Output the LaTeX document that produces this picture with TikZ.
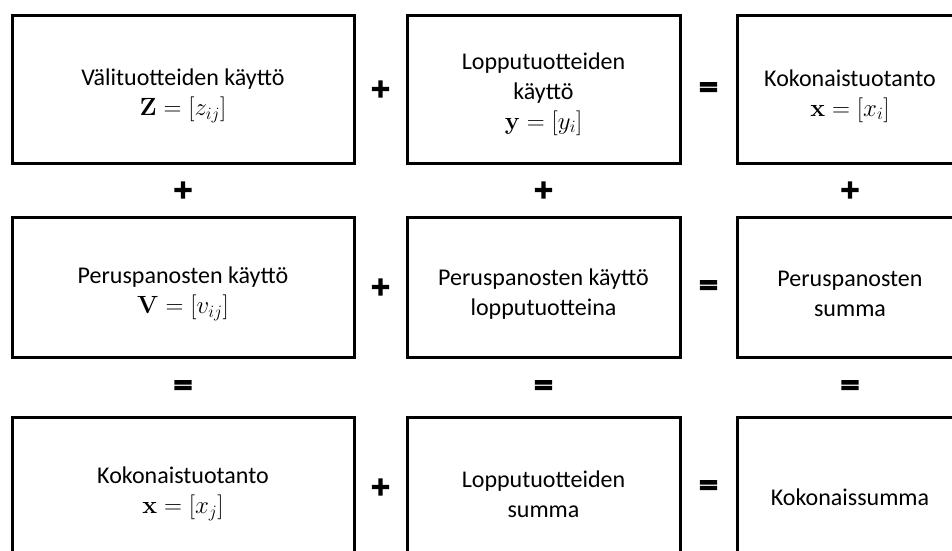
\documentclass[tikz,border=0pt]{standalone}
\usepackage[no-math]{fontspec}
\setmainfont{Carlito}
\newfontface\opfont{DejaVu Sans Bold}[FakeBold=6]
\begin{document}
\begin{tikzpicture}[x=1pt,y=-1pt,
  box/.style={draw,line width=3pt,inner sep=0pt},
  lbl/.style={inner sep=0pt,align=center,font=\fontsize{24}{30}\selectfont},
  c1/.style={minimum width=342pt},
  c2/.style={minimum width=273pt},
  c3/.style={minimum width=226pt},
  r1/.style={minimum height=148pt},
  r2/.style={minimum height=140pt},
  r3/.style={minimum height=140pt},
  op/.style={font=\opfont\fontsize{25}{25}\selectfont,inner sep=0pt}]
\useasboundingbox (0,0) rectangle (952,550);
\clip (0,0) rectangle (952,550);
% row 1
\node[box,c1,r1] (a1) at (183,89) {};
\node[box,c2,r1] (a2) at (543.5,89) {};
\node[box,c3,r1] (a3) at (850,89) {};
% row 2
\node[box,c1,r2] (b1) at (183,287) {};
\node[box,c2,r2] (b2) at (543.5,287) {};
\node[box,c3,r2] (b3) at (850,287) {};
% row 3
\node[box,c1,r3] (d1) at (183,487) {};
\node[box,c2,r3] (d2) at (543.5,487) {};
\node[box,c3,r3] (d3) at (850,487) {};
% texts
\node[lbl] (ta1) at ([yshift=-7pt]a1.center) {Välituotteiden käyttö\\$\mathbf{Z}=\bigl[z_{ij}\bigr]$};
\node[lbl] (ta2) at ([yshift=-5pt]a2.center) {Lopputuotteiden\\käyttö\\$\mathbf{y}=[y_i]$};
\node[lbl] (ta3) at ([yshift=-7pt]a3.center) {Kokonaistuotanto\\$\mathbf{x}=[x_i]$};
\node[lbl] (tb1) at ([yshift=-7pt]b1.center) {Peruspanosten käyttö\\$\mathbf{V}=\bigl[v_{ij}\bigr]$};
\node[lbl] (tb2) at ([yshift=-7pt]b2.center) {Peruspanosten käyttö\\lopputuotteina};
\node[lbl] (tb3) at ([yshift=-7pt]b3.center) {Peruspanosten\\summa};
\node[lbl] (td1) at ([yshift=-7pt]d1.center) {Kokonaistuotanto\\$\mathbf{x}=\bigl[x_j\bigr]$};
\node[lbl] (td2) at ([yshift=-7pt]d2.center) {Lopputuotteiden\\summa};
\node[lbl] (td3) at ([yshift=-10pt]d3.center) {Kokonaissumma};
% horizontal operators
\path (a1.east) -- (a2.west) node[op,midway] (pa) {+};
\path (a2.east) -- (a3.west) node[op,midway] (ea) {=};
\path (b1.east) -- (b2.west) node[op,midway] (pb) {+};
\path (b2.east) -- (b3.west) node[op,midway] (eb) {=};
\path (d1.east) -- (d2.west) node[op,midway] (pd) {+};
\path (d2.east) -- (d3.west) node[op,midway] (ed) {=};
% vertical operators
\path (a1.south) -- (b1.north) node[op,midway] (v1) {+};
\path (a2.south) -- (b2.north) node[op,midway] (v2) {+};
\path (a3.south) -- (b3.north) node[op,midway] (v3) {+};
\path (b1.south) -- (d1.north) node[op,midway] (w1) {=};
\path (b2.south) -- (d2.north) node[op,midway] (w2) {=};
\path (b3.south) -- (d3.north) node[op,midway] (w3) {=};
\end{tikzpicture}
\end{document}
